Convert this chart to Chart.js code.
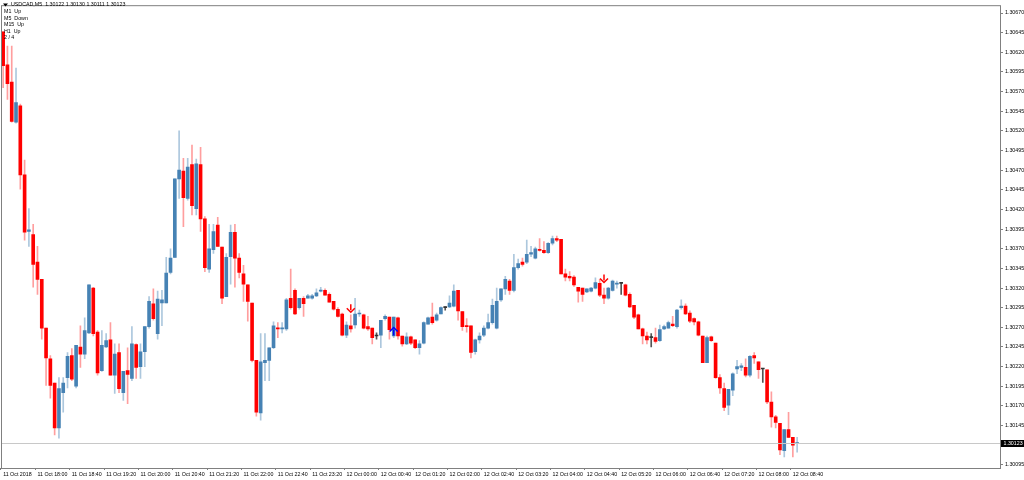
<!DOCTYPE html>
<html><head><meta charset="utf-8">
<script src="https://cdn.jsdelivr.net/npm/chart.js@4"></script>
<style>html,body{margin:0;padding:0;background:#fff}#w{width:1024px;height:480px}</style>
</head><body><div id="w"><canvas id="c"></canvas></div>
<script>
const openP=[1.30646,1.30604,1.30582,1.30531,1.30552,1.30464,1.30392,1.30388,1.30353,1.30331,1.30269,1.30230,1.30199,1.30142,1.30187,1.30206,1.30234,1.30195,1.30245,1.30236,1.30263,1.30320,1.30264,1.30215,1.30245,1.30254,1.30209,1.30238,1.30187,1.30215,1.30205,1.30248,1.30220,1.30239,1.30271,1.30300,1.30262,1.30301,1.30301,1.30340,1.30359,1.30459,1.30469,1.30434,1.30477,1.30421,1.30477,1.30408,1.30344,1.30369,1.30400,1.30372,1.30309,1.30360,1.30391,1.30358,1.30338,1.30324,1.30301,1.30228,1.30161,1.30225,1.30228,1.30244,1.30269,1.30268,1.30268,1.30307,1.30317,1.30295,1.30307,1.30307,1.30307,1.30310,1.30316,1.30317,1.30312,1.30303,1.30293,1.30287,1.30260,1.30272,1.30273,1.30287,1.30286,1.30271,1.30269,1.30259,1.30260,1.30281,1.30283,1.30259,1.30282,1.30259,1.30249,1.30258,1.30254,1.30244,1.30250,1.30274,1.30283,1.30279,1.30287,1.30295,1.30296,1.30297,1.30317,1.30290,1.30272,1.30272,1.30239,1.30254,1.30260,1.30269,1.30276,1.30269,1.30305,1.30319,1.30329,1.30317,1.30346,1.30353,1.30353,1.30363,1.30358,1.30369,1.30368,1.30365,1.30377,1.30383,1.30382,1.30338,1.30335,1.30334,1.30321,1.30320,1.30315,1.30316,1.30320,1.30326,1.30311,1.30307,1.30317,1.30325,1.30326,1.30324,1.30312,1.30298,1.30286,1.30268,1.30259,1.30257,1.30257,1.30253,1.30268,1.30269,1.30274,1.30271,1.30295,1.30297,1.30288,1.30281,1.30277,1.30259,1.30225,1.30258,1.30250,1.30206,1.30192,1.30171,1.30190,1.30217,1.30219,1.30219,1.30209,1.30234,1.30226,1.30217,1.30216,1.30175,1.30156,1.30148,1.30113,1.30140,1.30130,1.30122];
const closeP=[1.30603,1.30580,1.30532,1.30556,1.30464,1.30391,1.30394,1.30350,1.30331,1.30269,1.30231,1.30196,1.30142,1.30192,1.30199,1.30233,1.30204,1.30247,1.30236,1.30266,1.30324,1.30262,1.30212,1.30247,1.30253,1.30209,1.30236,1.30192,1.30214,1.30210,1.30249,1.30219,1.30239,1.30271,1.30303,1.30281,1.30306,1.30305,1.30339,1.30358,1.30459,1.30470,1.30435,1.30474,1.30425,1.30478,1.30408,1.30346,1.30370,1.30392,1.30373,1.30307,1.30359,1.30391,1.30358,1.30340,1.30325,1.30303,1.30228,1.30162,1.30226,1.30228,1.30244,1.30272,1.30268,1.30269,1.30305,1.30295,1.30287,1.30307,1.30300,1.30310,1.30310,1.30314,1.30317,1.30311,1.30302,1.30293,1.30284,1.30260,1.30273,1.30268,1.30287,1.30288,1.30269,1.30268,1.30257,1.30259,1.30279,1.30284,1.30267,1.30283,1.30259,1.30249,1.30258,1.30250,1.30244,1.30249,1.30276,1.30282,1.30276,1.30286,1.30295,1.30295,1.30301,1.30316,1.30291,1.30271,1.30271,1.30238,1.30254,1.30259,1.30269,1.30276,1.30298,1.30303,1.30319,1.30331,1.30317,1.30346,1.30351,1.30350,1.30363,1.30365,1.30370,1.30368,1.30365,1.30377,1.30383,1.30381,1.30338,1.30334,1.30333,1.30324,1.30316,1.30312,1.30319,1.30320,1.30327,1.30311,1.30307,1.30320,1.30329,1.30326,1.30326,1.30311,1.30296,1.30283,1.30268,1.30259,1.30254,1.30257,1.30252,1.30267,1.30271,1.30276,1.30272,1.30292,1.30297,1.30287,1.30278,1.30277,1.30260,1.30225,1.30257,1.30253,1.30206,1.30193,1.30168,1.30191,1.30211,1.30220,1.30221,1.30209,1.30233,1.30231,1.30216,1.30217,1.30175,1.30156,1.30149,1.30114,1.30140,1.30130,1.30120,1.30123];
const highP=[1.30646,1.30628,1.30628,1.30600,1.30554,1.30483,1.30421,1.30401,1.30373,1.30331,1.30269,1.30234,1.30199,1.30206,1.30206,1.30238,1.30243,1.30247,1.30272,1.30282,1.30324,1.30321,1.30266,1.30266,1.30262,1.30276,1.30249,1.30249,1.30214,1.30244,1.30271,1.30249,1.30249,1.30271,1.30309,1.30319,1.30316,1.30317,1.30359,1.30370,1.30459,1.30520,1.30485,1.30485,1.30502,1.30484,1.30499,1.30411,1.30401,1.30401,1.30410,1.30372,1.30364,1.30400,1.30401,1.30364,1.30349,1.30324,1.30301,1.30228,1.30262,1.30262,1.30244,1.30277,1.30276,1.30276,1.30307,1.30344,1.30319,1.30307,1.30309,1.30312,1.30312,1.30319,1.30321,1.30319,1.30314,1.30303,1.30295,1.30288,1.30277,1.30286,1.30307,1.30292,1.30287,1.30284,1.30269,1.30263,1.30279,1.30286,1.30283,1.30283,1.30283,1.30259,1.30263,1.30259,1.30254,1.30253,1.30277,1.30283,1.30301,1.30288,1.30296,1.30296,1.30310,1.30324,1.30317,1.30290,1.30281,1.30272,1.30255,1.30263,1.30272,1.30287,1.30306,1.30320,1.30319,1.30335,1.30331,1.30363,1.30357,1.30358,1.30381,1.30373,1.30372,1.30383,1.30379,1.30378,1.30386,1.30386,1.30382,1.30344,1.30341,1.30336,1.30321,1.30320,1.30319,1.30321,1.30333,1.30331,1.30320,1.30321,1.30330,1.30329,1.30327,1.30325,1.30314,1.30298,1.30287,1.30269,1.30264,1.30262,1.30269,1.30273,1.30273,1.30278,1.30284,1.30293,1.30305,1.30300,1.30291,1.30282,1.30278,1.30259,1.30259,1.30259,1.30250,1.30210,1.30199,1.30191,1.30212,1.30228,1.30224,1.30230,1.30234,1.30238,1.30226,1.30217,1.30216,1.30188,1.30158,1.30148,1.30140,1.30162,1.30130,1.30130];
const lowP=[1.30575,1.30560,1.30531,1.30530,1.30446,1.30381,1.30373,1.30321,1.30312,1.30255,1.30196,1.30180,1.30133,1.30129,1.30162,1.30193,1.30202,1.30193,1.30219,1.30230,1.30262,1.30259,1.30209,1.30214,1.30244,1.30209,1.30186,1.30187,1.30177,1.30173,1.30202,1.30205,1.30205,1.30220,1.30269,1.30279,1.30255,1.30272,1.30301,1.30338,1.30359,1.30434,1.30398,1.30432,1.30413,1.30413,1.30392,1.30341,1.30340,1.30364,1.30373,1.30300,1.30309,1.30325,1.30321,1.30333,1.30303,1.30278,1.30226,1.30157,1.30152,1.30202,1.30202,1.30243,1.30257,1.30263,1.30266,1.30293,1.30286,1.30293,1.30284,1.30307,1.30306,1.30309,1.30315,1.30311,1.30302,1.30292,1.30283,1.30259,1.30257,1.30264,1.30269,1.30284,1.30268,1.30266,1.30249,1.30255,1.30244,1.30279,1.30255,1.30257,1.30255,1.30246,1.30248,1.30248,1.30243,1.30236,1.30249,1.30274,1.30274,1.30278,1.30287,1.30292,1.30295,1.30296,1.30279,1.30266,1.30264,1.30231,1.30236,1.30250,1.30258,1.30268,1.30274,1.30268,1.30303,1.30312,1.30312,1.30315,1.30344,1.30348,1.30351,1.30360,1.30357,1.30367,1.30364,1.30364,1.30375,1.30379,1.30338,1.30329,1.30329,1.30322,1.30302,1.30303,1.30314,1.30315,1.30319,1.30309,1.30300,1.30306,1.30316,1.30320,1.30312,1.30310,1.30295,1.30281,1.30268,1.30249,1.30249,1.30245,1.30250,1.30252,1.30267,1.30269,1.30271,1.30269,1.30293,1.30286,1.30276,1.30273,1.30259,1.30225,1.30225,1.30252,1.30205,1.30186,1.30164,1.30159,1.30183,1.30211,1.30215,1.30207,1.30207,1.30224,1.30205,1.30200,1.30173,1.30143,1.30142,1.30108,1.30105,1.30130,1.30105,1.30111];
const xTickLabels=["11 Oct 2018","11 Oct 18:00","11 Oct 18:40","11 Oct 19:20","11 Oct 20:00","11 Oct 20:40","11 Oct 21:20","11 Oct 22:00","11 Oct 22:40","11 Oct 23:20","12 Oct 00:00","12 Oct 00:40","12 Oct 01:20","12 Oct 02:00","12 Oct 02:40","12 Oct 03:20","12 Oct 04:00","12 Oct 04:40","12 Oct 05:20","12 Oct 06:00","12 Oct 06:40","12 Oct 07:20","12 Oct 08:00","12 Oct 08:40"];
const yTickLabels=[1.30095,1.30120,1.30145,1.30170,1.30195,1.30220,1.30245,1.30270,1.30295,1.30320,1.30345,1.30370,1.30395,1.30420,1.30445,1.30470,1.30495,1.30520,1.30545,1.30570,1.30595,1.30620,1.30645,1.30670];
const arrowIdx=[81,91,140];
const arrowPrice=[1.30293,1.30266,1.30331];
const arrowDir=["down","up","down"];
const headerLines=["USDCAD,M5  1.30122 1.30130 1.30111 1.30123","M1  Up","M5  Down","M15  Up","H1  Up","2 / 4"];

const SLOTS=233, LABEL_EVERY=8;
const labels=[];for(let i=0;i<SLOTS;i++){const k=i/LABEL_EVERY;labels.push(i%LABEL_EVERY===0&&k<xTickLabels.length?xTickLabels[k]:'');}
const N=openP.length;
const bodies=[],wicks=[],bodyCol=[],wickCol=[];
for(let i=0;i<N;i++){
  const o=openP[i],c=closeP[i];
  bodies.push([Math.min(o,c),Math.max(o,c)]);
  wicks.push([lowP[i],highP[i]]);
  if(c>o){bodyCol.push('#4682B4');wickCol.push('rgba(70,130,180,0.45)');}
  else if(c<o){bodyCol.push('#FF0000');wickCol.push('rgba(255,0,0,0.38)');}
  else {bodyCol.push('#333');wickCol.push('#555');}
}
const FONT='Liberation Sans', FS=5.3;
const overlay={id:'overlay',
 afterDatasetsDraw(ch){
  const {ctx,chartArea:a,scales:{y}}=ch;
  ctx.save();
  arrowIdx.forEach((ix,j)=>{
    const x=ch.scales.x.getPixelForValue(ix), py=y.getPixelForValue(arrowPrice[j]);
    const dn=arrowDir[j]==='down', col=dn?'#FF0000':'#0000FF', s=dn?1:-1;
    ctx.strokeStyle=col;ctx.lineWidth=1.5;
    ctx.beginPath();ctx.moveTo(x,py-5*s);ctx.lineTo(x,py+1*s);ctx.stroke();
    ctx.beginPath();ctx.moveTo(x-4,py-1*s);ctx.lineTo(x,py+3*s);ctx.lineTo(x+4,py-1*s);ctx.stroke();
  });
  const last=closeP[N-1], ly=Math.round(y.getPixelForValue(last))+0.5;
  ctx.strokeStyle='#C8C8C8';ctx.lineWidth=1;
  ctx.beginPath();ctx.moveTo(a.left,ly);ctx.lineTo(a.right,ly);ctx.stroke();
  ctx.strokeStyle='#808080';ctx.strokeRect(a.left+0.5,a.top+0.5,a.right-a.left-1,a.bottom-a.top);
  ctx.font=FS+'px '+FONT;ctx.textBaseline='middle';
  const t=last.toFixed(5), w=ctx.measureText(t).width;
  ctx.fillStyle='#000';ctx.fillRect(a.right,ly-3.5,w+4,7);
  ctx.fillStyle='#fff';ctx.fillText(t,a.right+2.5,ly+0.5);
  ctx.fillStyle='#000';
  headerLines.forEach((l,i)=>{
    if(i===0){ctx.beginPath();ctx.moveTo(3,3.5);ctx.lineTo(8,3.5);ctx.lineTo(5.5,6.5);ctx.closePath();ctx.fill();ctx.fillText(l,11,5);}
    else ctx.fillText(l,4,5+i*6.6);
  });
  ctx.restore();
 }};
new Chart(document.getElementById('c'),{
 type:'bar',
 data:{labels,datasets:[
  {label:'body',data:bodies,backgroundColor:bodyCol,barThickness:3,minBarLength:1,order:0,grouped:false},
  {label:'wick',data:wicks,backgroundColor:wickCol,barThickness:1,order:1,grouped:false}
 ]},
 plugins:[overlay],
 options:{responsive:true,maintainAspectRatio:false,animation:false,
  layout:{padding:{top:1,left:1,right:0,bottom:0}},
  plugins:{legend:{display:false},tooltip:{enabled:false}},
  scales:{
   x:{offset:true,border:{display:false},
     grid:{display:true,drawOnChartArea:false,drawTicks:true,tickLength:2,color:c=>c.tick&&c.tick.label?'#808080':'transparent'},
     ticks:{autoSkip:false,maxRotation:0,minRotation:0,align:'start',padding:1,color:'#000',font:{family:FONT,size:FS}},
     afterFit:s=>{s.height=12;}},
   y:{position:'right',min:1.30091,max:1.30680,border:{display:false},
     grid:{display:true,drawOnChartArea:false,drawTicks:true,tickLength:2,color:'#808080'},
     afterBuildTicks:s=>{s.ticks=yTickLabels.map(v=>({value:v}));},
     ticks:{padding:2,color:'#000',font:{family:FONT,size:FS},callback:v=>Number(v).toFixed(5)},
     afterFit:s=>{s.width=23;}}
  }}
});
</script></body></html>
